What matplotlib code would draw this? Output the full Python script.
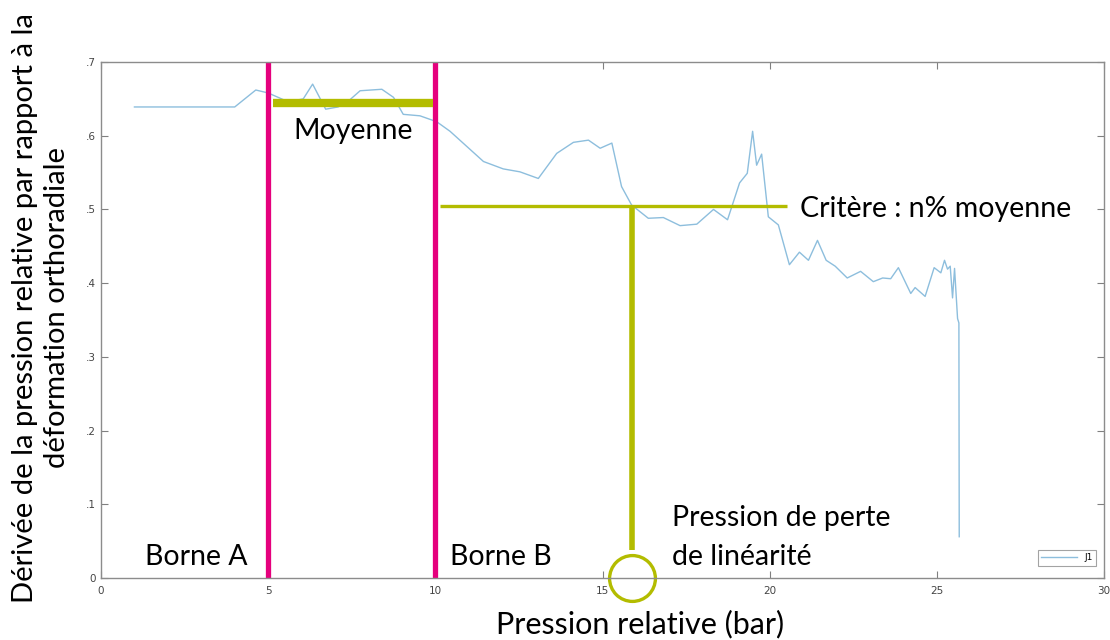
import numpy as np
import matplotlib
matplotlib.use("Agg")
import matplotlib.pyplot as plt
from matplotlib.ticker import FuncFormatter

# J1 curve
pression = [1.0, 4.0, 4.63, 5.0, 5.6, 6.05, 6.33, 6.72, 7.09, 7.45, 7.75, 8.4,
            8.75, 9.04, 9.54, 10.04, 10.44, 11.44, 12.03, 12.53, 13.08, 13.63,
            14.13, 14.58, 14.93, 15.28, 15.57, 15.87, 16.37, 16.82, 17.32,
            17.82, 18.32, 18.74, 19.10, 19.33, 19.49, 19.61, 19.76, 19.96,
            20.26, 20.59, 20.89, 21.16, 21.43, 21.69, 21.96, 22.32, 22.72,
            23.10, 23.38, 23.62, 23.85, 24.22, 24.35, 24.65, 24.92, 25.12,
            25.23, 25.32, 25.40, 25.47, 25.53, 25.62, 25.66, 25.67]
derivee = [0.639, 0.639, 0.662, 0.658, 0.646, 0.650, 0.670, 0.636, 0.639,
           0.649, 0.661, 0.663, 0.652, 0.629, 0.627, 0.619, 0.606, 0.565,
           0.555, 0.551, 0.542, 0.576, 0.591, 0.594, 0.583, 0.590, 0.531,
           0.506, 0.488, 0.489, 0.478, 0.480, 0.500, 0.486, 0.536, 0.549,
           0.606, 0.560, 0.575, 0.490, 0.479, 0.425, 0.442, 0.431, 0.458,
           0.431, 0.423, 0.407, 0.416, 0.402, 0.407, 0.406, 0.421, 0.386,
           0.394, 0.382, 0.421, 0.414, 0.431, 0.419, 0.423, 0.380, 0.420,
           0.352, 0.346, 0.056]

x_ticks = [0, 5, 10, 15, 20, 25, 30]
y_ticks = [0, 0.1, 0.2, 0.3, 0.4, 0.5, 0.6, 0.7]

# annotation levels
borne_a = 5.0
borne_b = 10.0
moyenne = 0.644
critere = 0.505
p_perte = 15.88

magenta = "#E5007D"
olive = "#B3BC00"
font = "Lato"
fs = 20.5

fig = plt.figure(figsize=(11.1, 6.4), dpi=100)
ax = fig.add_axes([101 / 1110, 62 / 640, 1003 / 1110, 516 / 640])

ax.plot(pression, derivee, color="#8DBEDD", lw=1.0, label="J1")

ax.set_xlim(0, 30)
ax.set_ylim(0, 0.7)
ax.set_xticks(x_ticks)
ax.set_yticks(y_ticks)
ax.yaxis.set_major_formatter(FuncFormatter(
    lambda v, p: "0" if v == 0 else ("%.1f" % v).lstrip("0")))
ax.tick_params(direction="in", top=True, right=True, length=5, width=0.8,
               colors="#808080", labelcolor="#444444", labelsize=7.5)
ax.tick_params(axis="x", pad=6)
for s in ax.spines.values():
    s.set_color("#8c8c8c")
    s.set_linewidth(1.0)

leg = ax.legend(loc="lower right", fontsize=6.5, frameon=True, fancybox=False,
                handlelength=4, borderpad=0.4, bbox_to_anchor=(0.997, 0.015))
leg.get_frame().set_edgecolor("#8c8c8c")
leg.get_frame().set_linewidth(0.8)

# bornes
ax.plot([borne_a, borne_a], [0, 0.7], color=magenta, lw=3.8, solid_capstyle="butt")
ax.plot([borne_b, borne_b], [0, 0.7], color=magenta, lw=3.8, solid_capstyle="butt")
# moyenne
ax.plot([5.15, 9.93], [moyenne, moyenne], color=olive, lw=6, solid_capstyle="butt")
# critere
ax.plot([10.14, 20.52], [critere, critere], color=olive, lw=2.4, solid_capstyle="butt")
ax.plot([p_perte, p_perte], [critere, 0.038], color=olive, lw=4, solid_capstyle="butt")
ax.plot([p_perte], [0], marker="o", ms=33, mfc="none", mec=olive, mew=2.4,
        clip_on=False)

ax.text(7.54, 0.606, "Moyenne", fontsize=fs, family=font, ha="center", va="center")
ax.text(20.9, 0.500, "Critère : n% moyenne", fontsize=fs, family=font,
        ha="left", va="center")
ax.text(17.08, 0.055, "Pression de perte\nde linéarité", fontsize=fs, family=font,
        ha="left", va="center", linespacing=1.6)
ax.text(1.32, 0.029, "Borne A", fontsize=fs, family=font, ha="left", va="center")
ax.text(10.44, 0.029, "Borne B", fontsize=fs, family=font, ha="left", va="center")

fig.text(640 / 1110, 1 - 624 / 640, "Pression relative (bar)", fontsize=22,
         family=font, ha="center", va="center")
fig.text(41 / 1110, 1 - 308 / 640,
         "Dérivée de la pression relative par rapport à la\ndéformation orthoradiale",
         fontsize=21, family=font, ha="center", va="center", rotation=90,
         linespacing=1.3)

fig.savefig("out.png", dpi=100)
